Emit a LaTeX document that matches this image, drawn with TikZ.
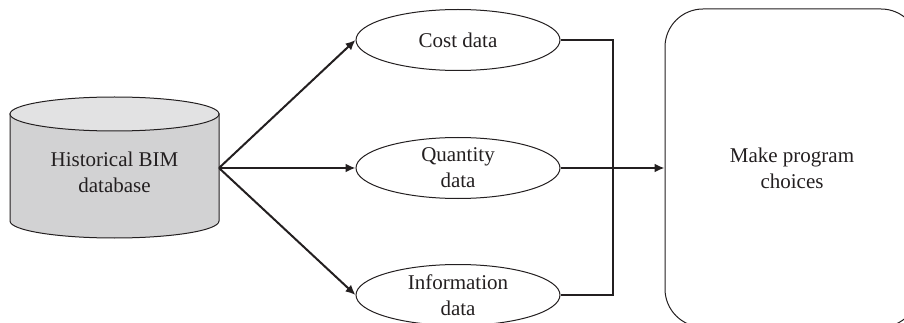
\documentclass[tikz,border=0pt]{standalone}
\usepackage{fontspec}
\setmainfont{Liberation Serif}
\usetikzlibrary{arrows.meta,shapes.geometric}
\definecolor{ink}{HTML}{231F20}
\definecolor{dbbody}{HTML}{D2D2D3}
\definecolor{dbtop}{HTML}{E2E2E3}
\begin{document}
\begin{tikzpicture}[x=1pt,y=1pt,
  lbl/.style={font=\fontsize{21}{26}\selectfont, text=ink, align=center},
  dataell/.style={lbl, ellipse, draw=ink, line width=1pt, minimum width=204pt, minimum height=61pt, inner sep=0pt},
  flow/.style={draw=ink, line width=2pt, -{Latex[length=10pt,width=9pt]}},
  joiner/.style={draw=ink, line width=2pt}
]
\useasboundingbox (0,0) rectangle (904,-323);
\begin{scope}
\clip (0,0) rectangle (904,-323);
% database cylinder
\path[fill=dbbody, draw=ink, line width=1pt]
  (10,-114) -- (10,-221) arc[start angle=180, end angle=360, x radius=104.5pt, y radius=17pt]
  -- (219,-114) -- cycle;
\draw[fill=dbtop, draw=ink, line width=1pt] (114.5,-114) ellipse [x radius=104.5pt, y radius=17pt];
\node[lbl, minimum width=209pt, minimum height=141pt, inner sep=0pt] (db) at (114.5,-172) {Historical BIM\\database};

% data items
\node[dataell] (cost) at (458,-40) {Cost data};
\node[dataell] (qty) at (458,-168) {Quantity\\data};
\node[dataell] (info) at (458,-295) {Information\\data};

% decision box
\node[lbl, draw=ink, line width=1pt, rounded corners=38pt, minimum width=254pt, minimum height=318pt] (choices) at (792,-168) {Make program\\choices};
\end{scope}

\coordinate (src) at (219,-168);
\coordinate (jt) at (613,-40);
\coordinate (jb) at (613,-295);

\draw[flow] (src) -- (cost.west);
\draw[flow] (src) -- (qty.west);
\draw[flow] (src) -- (info.west);
\draw[joiner] (cost.east) -- (jt) -- (jb) -- (info.east);
\draw[flow] (qty.east) -- (choices.west);
\end{tikzpicture}
\end{document}
